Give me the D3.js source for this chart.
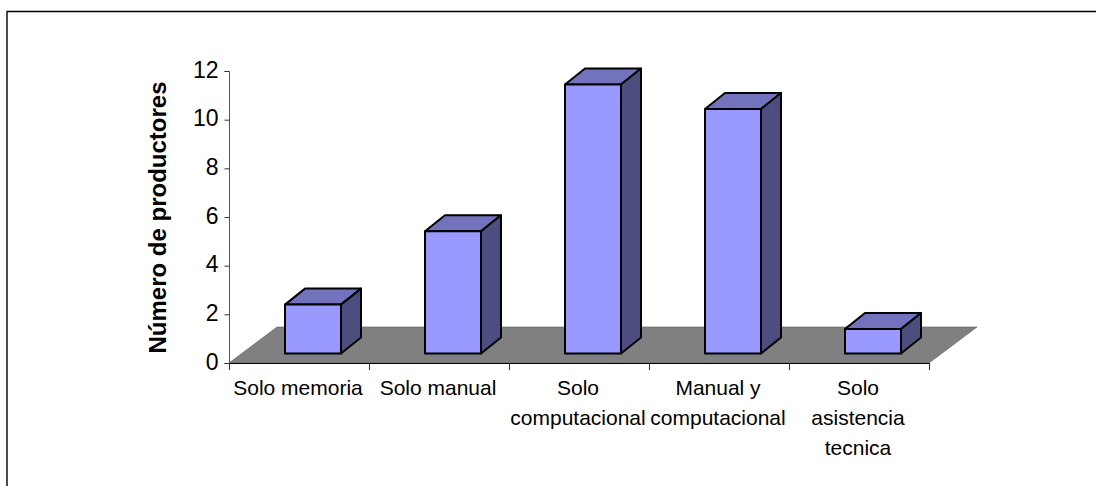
<!DOCTYPE html>
<html>
<head>
<meta charset="utf-8">
<script src="https://cdn.jsdelivr.net/npm/d3@7/dist/d3.min.js"></script>
<style>
html,body{margin:0;padding:0;background:#fff}
text{font-family:"Liberation Sans",Arial,sans-serif;fill:#000}
</style>
</head>
<body>
<svg id="chart" width="1096" height="486" style="display:block"></svg>
<script>
// Productores agrupados por tipo de registro
const categories = [
  ["Solo memoria"],
  ["Solo manual"],
  ["Solo", "computacional"],
  ["Manual y", "computacional"],
  ["Solo", "asistencia", "tecnica"]
];
const values = [2, 5, 11, 10, 1];
const yTicks = [0, 2, 4, 6, 8, 10, 12];
const yTitle = "Número de productores";

const svg = d3.select("#chart");

// Oblique projection: the floor recedes up and to the right
const floorDepth = {dx: 48, dy: -36};
const barDepth = {dx: 20, dy: -16};

const x = d3.scaleBand().domain(d3.range(categories.length)).range([229, 929]);
const yAxisScale = d3.scaleLinear().domain([0, 12]).range([363, 71]);
const yBar = d3.scaleLinear().domain([0, 12]).range([353.5, 60.1]);
const barWidth = 56;
const barInset = 56;

// Chart area border: its right and bottom edges fall outside the page
svg.append("path").attr("d", "M7,486V11.5H1096").attr("fill", "none").attr("stroke", "#000").attr("stroke-width", 1.4);

// Floor plane
const floor = [[229, 363], [229 + floorDepth.dx, 363 + floorDepth.dy],
               [929 + floorDepth.dx, 363 + floorDepth.dy], [929, 363]];
svg.append("polygon").attr("points", floor.join(" ")).attr("fill", "#808080").attr("stroke", "#5a5a5a").attr("stroke-width", 0.6);

// Value axis
const yG = svg.append("g").attr("transform", "translate(229.5,0)")
  .call(d3.axisLeft(yAxisScale).tickValues(yTicks).tickSize(5).tickPadding(6).tickFormat(d3.format("d")));
yG.selectAll("text").attr("font-size", 23).attr("dy", "0.27em");
yG.select(".domain").attr("stroke", "#555").attr("d", "M-5,71.5H0V363.5H-5");
yG.selectAll(".tick line").attr("stroke", "#333");

// Category axis
svg.append("line").attr("x1", 229).attr("x2", 929).attr("y1", 363.5).attr("y2", 363.5).attr("stroke", "#000");
const xTickPositions = d3.range(categories.length + 1).map(i => i < categories.length ? x(i) : x.range()[1]);
svg.selectAll(".xt").data(xTickPositions).join("line").attr("class", "xt")
  .attr("x1", d => d + .5).attr("x2", d => d + .5).attr("y1", 363).attr("y2", 370).attr("stroke", "#333");

const labels = svg.selectAll(".cat").data(categories).join("text").attr("class", "cat")
  .attr("text-anchor", "middle").attr("font-size", 21);
labels.each(function (lines, i) {
  d3.select(this).selectAll("tspan").data(lines).join("tspan")
    .attr("x", x(i) + x.bandwidth() / 2 - 1)
    .attr("y", (d, j) => 395 + j * 30)
    .text(d => d);
});

// Bars: front, top and side faces
const bars = svg.selectAll(".bar").data(values).join("g").attr("class", "bar")
  .attr("stroke", "#000").attr("stroke-width", 2).attr("stroke-linejoin", "round");
bars.each(function (v, i) {
  const g = d3.select(this);
  const x0 = x(i) + barInset, x1 = x0 + barWidth;
  const yt = yBar(v), yb = yBar(0);
  const {dx, dy} = barDepth;
  g.append("polygon").attr("fill", "#7373bd")
    .attr("points", [[x0, yt], [x0 + dx, yt + dy], [x1 + dx, yt + dy], [x1, yt]].join(" "));
  g.append("polygon").attr("fill", "#4d4d80")
    .attr("points", [[x1, yt], [x1 + dx, yt + dy], [x1 + dx, yb + dy], [x1, yb]].join(" "));
  g.append("rect").attr("x", x0).attr("y", yt).attr("width", barWidth).attr("height", yb - yt).attr("fill", "#9999ff");
});

// Axis title
svg.append("text").attr("transform", "translate(166,217.5) rotate(-90)")
  .attr("text-anchor", "middle").attr("font-size", 24).attr("font-weight", "bold").text(yTitle);
</script>
</body>
</html>
